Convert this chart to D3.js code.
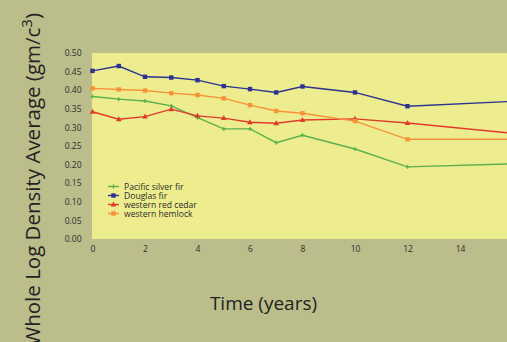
<!DOCTYPE html>
<html><head><meta charset="utf-8">
<script src="https://cdn.jsdelivr.net/npm/d3@7"></script>
<style>html,body{margin:0;padding:0;background:#bbbd8b;overflow:hidden}</style>
</head><body><svg id="c" width="507" height="342"></svg>
<script>
const years = [0,1,2,3,4,5,6,7,8,10,12,16];
const pacificSilverFir = [0.383,0.376,0.371,0.358,0.326,0.296,0.296,0.259,0.279,0.242,0.194,0.202];
const douglasFir = [0.452,0.465,0.436,0.434,0.427,0.411,0.403,0.394,0.41,0.394,0.357,0.37];
const westernRedCedar = [0.342,0.322,0.329,0.349,0.331,0.325,0.314,0.311,0.32,0.323,0.312,0.284];
const westernHemlock = [0.405,0.402,0.399,0.392,0.387,0.378,0.36,0.344,0.338,0.317,0.268,0.268];
const seriesNames = ["Pacific silver fir","Douglas fir","western red cedar","western hemlock"];
const seriesColors = ["#5bb04c","#2e3192","#e03a2a","#f7923a"];
const seriesMarkers = ["plus","square","triangle","square"];
const xTicks = [0,2,4,6,8,10,12,14,16];
const yTicks = [0,0.05,0.1,0.15,0.2,0.25,0.3,0.35,0.4,0.45,0.5];

const svg = d3.select("#c");
const x = d3.scaleLinear().domain([0,16]).range([92.5,512.5]);
const y = d3.scaleLinear().domain([0,0.5]).range([239,53]);

svg.append("rect").attr("x",x(0)-0.5).attr("y",y(0.5)).attr("width",507-x(0)+0.5).attr("height",y(0)-y(0.5)).attr("fill","#edec8e");

const xa = svg.append("g").attr("transform",`translate(0,${y(0)})`)
  .call(d3.axisBottom(x).tickValues(xTicks).tickFormat(d3.format("d")).tickSize(0).tickPadding(7));
xa.select(".domain").remove();
xa.selectAll("text").attr("font-family","Open Sans, sans-serif").attr("font-size",8.5).attr("fill","#2d2d2d");

const ya = svg.append("g").attr("transform",`translate(${x(0)-11},0)`)
  .call(d3.axisLeft(y).tickValues(yTicks).tickFormat(d3.format(".2f")).tickSize(0).tickPadding(0));
ya.select(".domain").remove();
ya.selectAll("text").attr("font-family","Open Sans, sans-serif").attr("font-size",8.5).attr("fill","#2d2d2d");

const allSeries = [pacificSilverFir,douglasFir,westernRedCedar,westernHemlock];
const line = d3.line().x((d,i)=>x(years[i])).y(d=>y(d));
function marker(g, type, color, cx, cy){
  if(type==="square") g.append("rect").attr("x",cx-2.2).attr("y",cy-2.2).attr("width",4.4).attr("height",4.4).attr("fill",color);
  else if(type==="triangle") g.append("path").attr("d",`M${cx},${cy-3}L${cx+2.8},${cy+2}L${cx-2.8},${cy+2}Z`).attr("fill",color);
  else g.append("path").attr("d",`M${cx-2},${cy}H${cx+2}M${cx},${cy-2}V${cy+2}`).attr("stroke",color).attr("stroke-width",1.2);
}
const plot = svg.append("g");
[0,2,3,1].forEach(si=>{
  const g = plot.append("g");
  g.append("path").attr("d",line(allSeries[si])).attr("fill","none").attr("stroke",seriesColors[si]).attr("stroke-width",1.4);
  allSeries[si].forEach((v,i)=>{ if(years[i]<16) marker(g,seriesMarkers[si],seriesColors[si],x(years[i]),y(v)); });
});

const leg = svg.append("g");
seriesNames.forEach((n,i)=>{
  const ly = 186.5 + i*9;
  leg.append("line").attr("x1",108).attr("x2",119).attr("y1",ly).attr("y2",ly).attr("stroke",seriesColors[i]).attr("stroke-width",1.4);
  marker(leg,seriesMarkers[i],seriesColors[i],113.5,ly);
  leg.append("text").attr("x",124).attr("y",ly+3).attr("font-family","Open Sans, sans-serif").attr("font-size",8.6).attr("fill","#2d2d2d").text(n);
});

svg.append("text").attr("x",263.5).attr("y",310).attr("text-anchor","middle")
  .attr("font-family","Open Sans, sans-serif").attr("font-size",19).attr("fill","#222").text("Time (years)");

const yt = svg.append("text").attr("transform","translate(39.5,13) rotate(-90)").attr("text-anchor","end")
  .attr("font-family","Open Sans, sans-serif").attr("font-size",20.5).attr("fill","#222");
yt.append("tspan").text("Whole Log Density Average (gm/c");
yt.append("tspan").attr("dy",-7.5).attr("font-size",15).text("3");
yt.append("tspan").attr("dy",7.5).text(")");
</script></body></html>
